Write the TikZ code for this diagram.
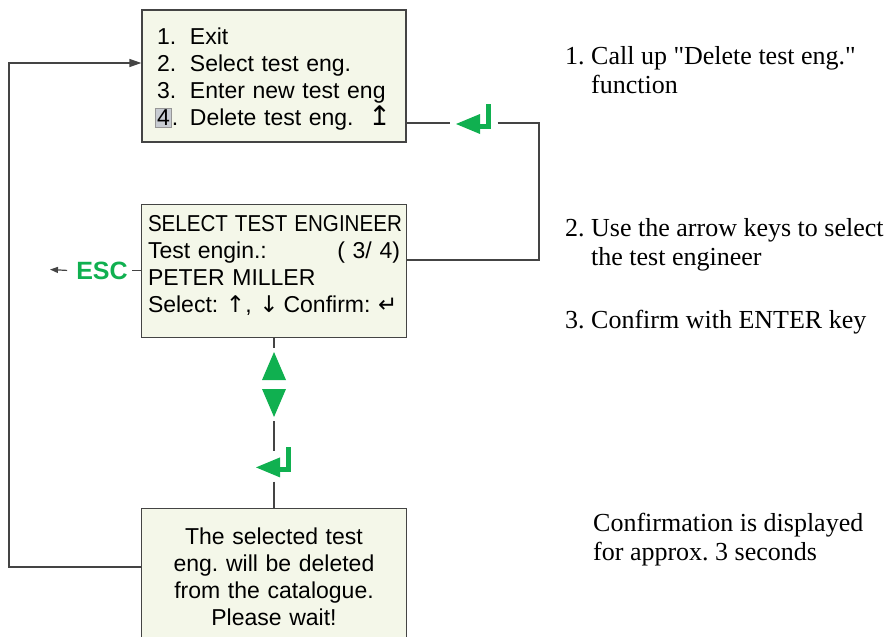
\documentclass[tikz,border=0pt]{standalone}
\usepackage{fontspec}
\newfontfamily\notefont{Liberation Serif}
\newfontfamily\boxfont{Liberation Sans}
\newfontfamily\arrowfont{DejaVu Sans}
\usepackage{graphicx}
\usepackage{xcolor}
\usepackage{tikz}
\usetikzlibrary{arrows.meta, positioning}
\definecolor{screen}{RGB}{244,247,233}
\definecolor{keygreen}{RGB}{16,176,80}
\definecolor{frame}{RGB}{68,68,68}
\definecolor{hlfill}{RGB}{200,204,210}
\definecolor{hlframe}{RGB}{150,150,150}
\tikzstyle{display} = [rectangle, draw=frame, line width=1.2pt, fill=screen, font=\boxfont\fontsize{23}{27}\selectfont]
\tikzstyle{note} = [anchor=base west, align=left, inner sep=0pt, font=\notefont\fontsize{26}{28.5}\selectfont]
\tikzstyle{escape} = [inner sep=4pt, text=keygreen, font=\boxfont\bfseries\fontsize{25}{30}\selectfont]
\tikzstyle{hidden} = [inner sep=0pt]
\tikzstyle{line} = [draw=frame, line width=1.2pt]
\tikzstyle{arrow} = [line, -{Triangle[length=12pt,width=8pt]}]
\tikzstyle{small arrow} = [line, shorten <=5pt, -{Triangle[length=8pt,width=6pt]}]
\newcommand{\menuno}[1]{\makebox[33pt][l]{#1}}
\newcommand{\curmark}[1]{{\setlength{\fboxsep}{1.5pt}\setlength{\fboxrule}{0.6pt}\hspace*{-2.1pt}\fcolorbox{hlframe}{hlfill}{#1}}}
\newcommand{\enterkey}[1]{%
  \begin{scope}[shift={(#1)}]
    \fill[keygreen] (-18,1) -- (6,-9) -- (6,11) -- cycle;
    \draw[keygreen, line width=5pt] (14.5,-19) -- (14.5,3) -- (4,3);
  \end{scope}}

\begin{document}
\frenchspacing
\begin{tikzpicture}[x=1pt, y=-1pt]
\useasboundingbox (0,0) rectangle (895,637);
\clip (0,0) rectangle (895,637);

% screens
\node (menu) [display, minimum height=132pt, text width=234pt, inner xsep=15pt, align=left] at (274,76) {%
\rule{0pt}{23pt}\menuno{1.}Exit\\
\menuno{2.}Select test eng.\\
\menuno{3.}Enter new test eng\\
\menuno{\curmark{4}.}Delete test eng.\hfill{\arrowfont\fontsize{27}{27}\selectfont ↥}};
\node (sel) [display, minimum height=133pt, text width=252pt, inner xsep=6.5pt, align=left, below=61pt of menu] {%
\scalebox{0.895}[1]{SELECT TEST ENGINEER}\\
Test engin.:\hfill( 3/ 4)\\
PETER MILLER\\
Select: {\arrowfont ↑}, {\arrowfont ↓}\hspace{5pt}Confirm: {\arrowfont ↵}\rule[-14pt]{0pt}{14pt}};
\node (del) [display, minimum height=137pt, text width=235pt, inner xsep=15pt, align=center, below=170pt of sel] {%
The selected test\\
eng. will be deleted\\
from the catalogue.\\
Please wait!};

% keys
\node (ent1) [hidden, minimum width=47pt, minimum height=32pt] at (474,123) {};
\node (ud) [hidden, minimum width=26pt, minimum height=73pt, below=10pt of sel] {};
\node (ent2) [hidden, minimum width=40pt, minimum height=30pt, below=30pt of ud] {};
\node (esc) [escape, left=9pt of sel] {ESC};
\enterkey{ent1}
\enterkey{ent2}
\begin{scope}[shift={(ud)}]
  \fill[keygreen] (-12,-4.5) -- (12,-4.5) -- (0,-32.5) -- cycle;
  \fill[keygreen] (-12,4.5) -- (12,4.5) -- (0,32.5) -- cycle;
\end{scope}

% connections
\coordinate (lb) at (9,567);
\coordinate (lt) at (9,63);
\coordinate (rt) at (539,260);
\coordinate (escout) at (50,269.5);
\draw [arrow] (del.west |- lb) -- (lb) -- (lt) -- (menu.west |- lt);
\draw [line] (menu.east |- ent1) -- (ent1.west);
\draw [line] (ent1.east) -| (rt) -- (sel.east |- rt);
\draw [line] (sel.west) -- (sel.west -| esc.east);
\draw [small arrow] (sel.west -| esc.west) -- (escout);
\draw [line] (sel.south) -- (ud.north);
\draw [line] (ud.south) -- (ent2.north);
\draw [line] (ent2.south) -- (del.north);

% notes
\node (n1) [note] at (565,93) {1. Call up "Delete test eng."\\\hphantom{1. }function};
\node (n2) [note] at (565,265) {2. Use the arrow keys to select\\\hphantom{2. }the test engineer};
\node (n3) [note] at (565,328) {3. Confirm with ENTER key};
\node (n4) [note] at (593,560) {Confirmation is displayed\\for approx. 3 seconds};

\end{tikzpicture}
\end{document}
